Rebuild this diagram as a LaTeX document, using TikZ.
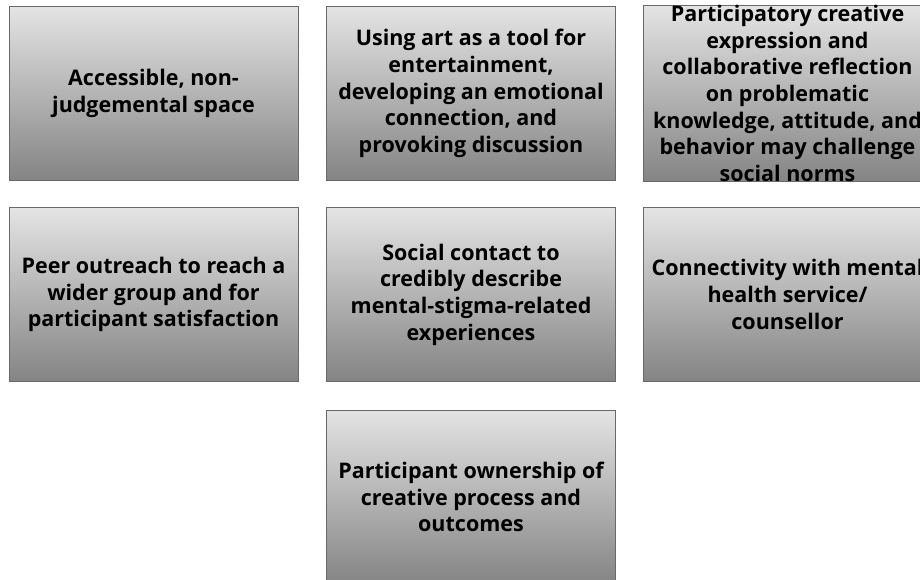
\documentclass[tikz,border=0pt]{standalone}
\usepackage{fontspec}
\setmainfont[Ligatures=NoCommon]{Open Sans}
\begin{document}
\begin{tikzpicture}[x=1pt,y=-1pt,
  card/.style={draw=boxedge, line width=0.9pt, top color=boxtop, bottom color=boxbot,
    minimum width=289pt, minimum height=174pt, inner sep=0pt, align=center,
    font=\bfseries\fontsize{21.5}{26.7}\selectfont, text=black}]
\definecolor{boxtop}{RGB}{228,228,228}
\definecolor{boxbot}{RGB}{132,132,132}
\definecolor{boxedge}{RGB}{105,105,105}
\useasboundingbox (0,0) rectangle (920,579);
\clip (0,0) rectangle (920,579);
% first row
\node[card] (space) at (153.5,93.5) {Accessible, non-\\judgemental space};
\node[card] (art) at (471,93.5) {Using art as a tool for\\entertainment,\\developing an emotional\\connection, and\\provoking discussion};
\node[card] (reflect) at (787.5,93.5) {Participatory creative\\expression and\\collaborative reflection\\on problematic\\knowledge, attitude, and\\behavior may challenge\\social norms};
% second row
\node[card] (peer) at (153.5,294.5) {Peer outreach to reach a\\wider group and for\\participant satisfaction};
\node[card] (contact) at (471,294.5) {Social contact to\\credibly describe\\mental-stigma-related\\experiences};
\node[card] (service) at (787.5,294.5) {Connectivity with mental\\health service/\\counsellor};
% third row
\node[card] (own) at (471,497) {Participant ownership of\\creative process and\\outcomes};
\end{tikzpicture}
\end{document}
